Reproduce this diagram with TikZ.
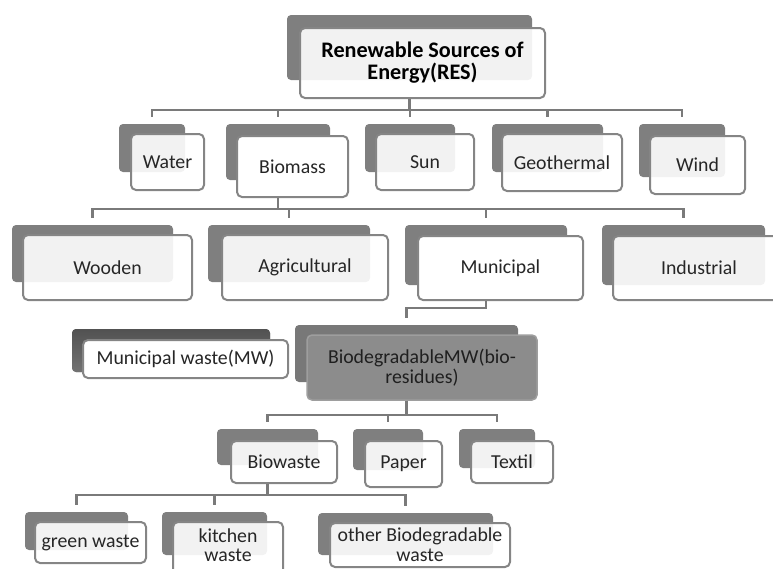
\documentclass[tikz,border=0pt]{standalone}
\usepackage{fontspec}
\setmainfont{Carlito}
\usetikzlibrary{calc}

\definecolor{backgray}{HTML}{7F7F7F}
\definecolor{edgegray}{HTML}{858585}
\definecolor{linegray}{HTML}{7A7A7A}
\definecolor{inkgray}{HTML}{262626}

\tikzset{
  backbox/.style={draw=none, fill=backgray, rounded corners=4pt, inner sep=0pt},
  frontbox/.style={draw=edgegray, line width=2pt, fill=white, fill opacity=0.9,
    text opacity=1, rounded corners=5pt, inner sep=1pt, align=center,
    text=inkgray, font=\fontsize{19.8}{20}\selectfont},
  conn/.style={draw=linegray, line width=2.7pt},
  tochild/.style={conn, shorten >=7pt},
}

\begin{document}
\begin{tikzpicture}[x=1pt, y=-1pt]
\useasboundingbox (0,0) rectangle (773,568);

% ---------- root ----------
\node[backbox, minimum width=245pt, minimum height=65pt] (resb) at (409.5,47.5) {};
\node[frontbox, minimum width=245pt, minimum height=70pt, text=black,
      font=\fontsize{22.2}{22}\selectfont\bfseries] (resf) at (422.5,63)
      {Renewable Sources of\\Energy(RES)};

% ---------- sources ----------
\node[backbox, minimum width=66pt, minimum height=48pt] (waterb) at (152,148) {};
\node[frontbox, minimum width=73pt, minimum height=56pt] (waterf) at (167.5,162) {Water};

\node[backbox, minimum width=104pt, minimum height=56pt] (biomassb) at (278,152) {};
\node[frontbox, minimum width=111pt, minimum height=61pt, fill opacity=1] (biomassf) at (292.5,166.5) {Biomass};

\node[backbox, minimum width=90pt, minimum height=48pt] (sunb) at (410,148) {};
\node[frontbox, minimum width=98pt, minimum height=56pt] (sunf) at (425,162) {Sun};

\node[backbox, minimum width=111pt, minimum height=48pt] (geob) at (547.5,148) {};
\node[frontbox, minimum width=120pt, minimum height=57pt] (geof) at (562,162.5) {Geothermal};

\node[backbox, minimum width=86pt, minimum height=53pt] (windb) at (682,150.5) {};
\node[frontbox, minimum width=95pt, minimum height=58pt] (windf) at (697.5,165) {Wind};

% ---------- biomass kinds ----------
\node[backbox, minimum width=161pt, minimum height=57pt] (woodb) at (92.5,253.5) {};
\node[frontbox, minimum width=169pt, minimum height=65pt] (woodf) at (107.5,267.5) {Wooden};

\node[backbox, minimum width=162pt, minimum height=57pt] (agrib) at (289,253.5) {};
\node[frontbox, minimum width=166pt, minimum height=65pt] (agrif) at (305,267.5) {Agricultural};

\node[backbox, minimum width=162pt, minimum height=60pt] (munib) at (486,255) {};
\node[frontbox, minimum width=165pt, minimum height=64pt, fill opacity=1] (munif) at (500.5,268) {Municipal};

\node[backbox, minimum width=163pt, minimum height=60pt] (indub) at (683.5,255) {};
\node[frontbox, minimum width=172pt, minimum height=64pt] (induf) at (699,268) {Industrial};

% ---------- municipal waste ----------
\node[backbox, top color=black!68, bottom color=black!55, minimum width=198pt, minimum height=43pt] (mwb) at (171,350.5) {};
\node[frontbox, minimum width=205pt, minimum height=38pt, fill opacity=1] (mwf) at (185.5,359) {Municipal waste(MW)};

\node[backbox, fill=black!53, minimum width=223pt, minimum height=57pt] (biob) at (406.5,353.5) {};
\node[frontbox, draw=black!38, fill=black!45, fill opacity=1, line width=1.5pt,
      minimum width=230pt, minimum height=65pt, text=black!88] (biof) at (422,367.5)
      {BiodegradableMW(bio-\\residues)};

% ---------- bio-residues ----------
\node[backbox, minimum width=101pt, minimum height=36pt] (bwb) at (267.5,447) {};
\node[frontbox, minimum width=106pt, minimum height=42pt] (bwf) at (284,462) {Biowaste};

\node[backbox, minimum width=70pt, minimum height=41pt] (papb) at (388,449.5) {};
\node[frontbox, minimum width=77pt, minimum height=46pt] (papf) at (403.5,464) {Paper};

\node[backbox, minimum width=76pt, minimum height=39pt] (texb) at (497,448.5) {};
\node[frontbox, minimum width=82pt, minimum height=42pt] (texf) at (512,462) {Textil};

% ---------- biowaste ----------
\node[backbox, minimum width=103pt, minimum height=38pt] (grnb) at (76.5,531) {};
\node[frontbox, minimum width=111pt, minimum height=41pt] (grnf) at (90.5,542.5) {green waste};

\node[backbox, minimum width=105pt, minimum height=43pt] (kitb) at (214.5,533.5) {};
\node[frontbox, minimum width=110pt, minimum height=53pt,
      font=\fontsize{19.8}{19}\selectfont] (kitf) at (228,548.5) {};
\node[text=inkgray, align=center, inner sep=0pt,
      font=\fontsize{19.8}{19}\selectfont] (kitt) at (228,545.5) {kitchen\\waste};

\node[backbox, minimum width=175pt, minimum height=42pt] (othb) at (405.5,534) {};
\node[frontbox, minimum width=180pt, minimum height=44pt] (othf) at (420,545) {other Biodegradable\\waste};

% ---------- bus levels ----------
\coordinate (busA) at (0,110);
\coordinate (busB) at (0,209);
\coordinate (busC) at (0,308);
\coordinate (busD) at (0,415);
\coordinate (busE) at (0,495);

% ---------- connectors ----------
\coordinate (resout) at (resb.south |- resf.south);
\foreach \c in {waterb, biomassb, sunb, geob, windb}
  \draw[tochild] (resout) -- (resout |- busA) -| (\c.north);

\coordinate (bmout) at (biomassb.south |- biomassf.south);
\foreach \c in {woodb, agrib, munib, indub}
  \draw[tochild] (bmout) -- (bmout |- busB) -| (\c.north);

\coordinate (muout) at (munib.south |- munif.south);
\draw[tochild] (muout) -- (muout |- busC) -| (biob.north);

\coordinate (bdout) at (biob.south |- biof.south);
\foreach \c in {bwb, papb, texb}
  \draw[tochild] (bdout) -- (bdout |- busD) -| (\c.north);

\coordinate (bwout) at (bwb.south |- bwf.south);
\foreach \c in {grnb, kitb, othb}
  \draw[tochild] (bwout) -- (bwout |- busE) -| (\c.north);
\end{tikzpicture}
\end{document}
